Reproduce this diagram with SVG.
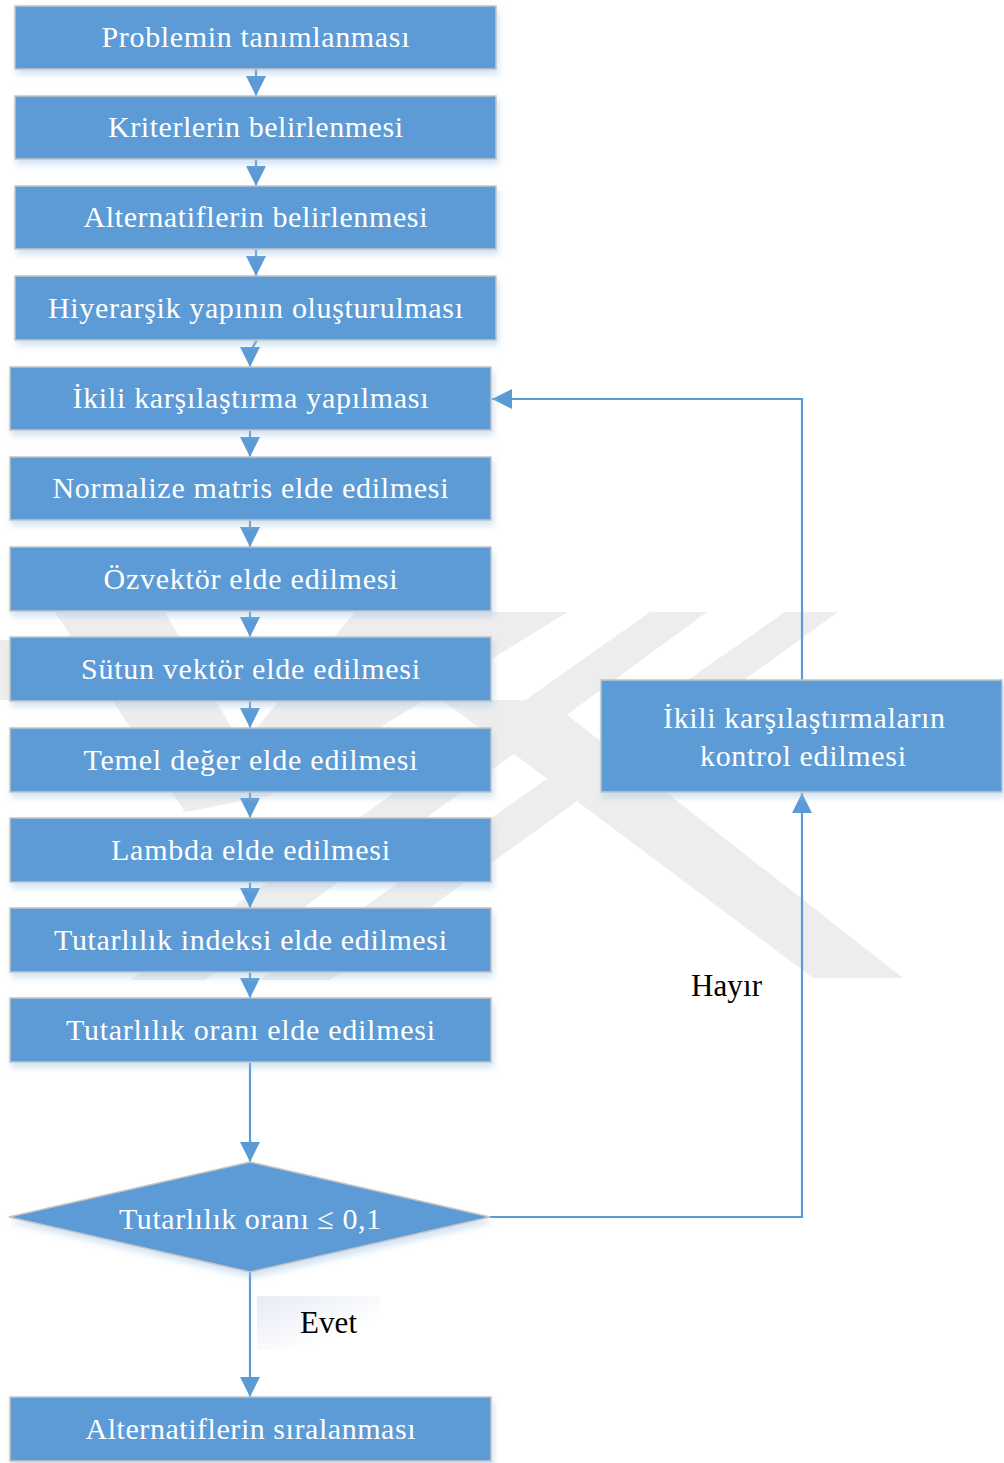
<svg xmlns="http://www.w3.org/2000/svg" width="1004" height="1463" viewBox="0 0 1004 1463">
<defs>
<style>
.box{fill:#5B9BD5;stroke:#C4C4C4;stroke-width:1.5;}
.lbl{font-family:"Liberation Serif","Times New Roman",serif;font-size:30px;fill:#FFFFFF;text-anchor:middle;}
.blk{font-family:"Liberation Serif","Times New Roman",serif;font-size:31px;fill:#000000;}
.con{fill:none;stroke:#5B9BD5;stroke-width:2.2;}
.wm{fill:#EDEDED;}
</style>
<filter id="sh" x="-5%" y="-20%" width="112%" height="150%">
<feDropShadow dx="2" dy="5" stdDeviation="3" flood-color="#9DC3E6" flood-opacity="0.45"/>
</filter>
<marker id="ah" viewBox="0 0 20 20" refX="20" refY="10" markerWidth="20" markerHeight="20" markerUnits="userSpaceOnUse" orient="auto">
<path d="M0,0 L20,10 L0,20 Z" fill="#5B9BD5"/>
</marker>
<linearGradient id="evg" x1="0" y1="0" x2="1" y2="1">
<stop offset="0" stop-color="#E6EBF5"/>
<stop offset="0.7" stop-color="#FFFFFF"/>
</linearGradient>
</defs>
<rect width="1004" height="1463" fill="#FFFFFF"/>
<g id="watermark">
<polygon class="wm" points="55,612 165,612 270,795 185,812"/>
<polygon class="wm" points="355,612 568,612 270,795 185,812"/>
<polygon class="wm" points="650,612 707,612 205,980 130,980"/>
<polygon class="wm" points="785,612 838,612 330,980 260,980"/>
<polygon class="wm" points="442,700 548,700 903,978 813,978"/>
<polygon class="wm" points="0,640 40,640 40,700 0,700"/>
</g>
<g id="connectors">
<line class="con" x1="256" y1="69" x2="256" y2="96" marker-end="url(#ah)"/>
<line class="con" x1="256" y1="159" x2="256" y2="186" marker-end="url(#ah)"/>
<line class="con" x1="256" y1="249" x2="256" y2="276" marker-end="url(#ah)"/>
<path class="con" d="M257,340 L250,352 L250,367" marker-end="url(#ah)"/>
<line class="con" x1="250" y1="430" x2="250" y2="457" marker-end="url(#ah)"/>
<line class="con" x1="250" y1="520" x2="250" y2="547" marker-end="url(#ah)"/>
<line class="con" x1="250" y1="611" x2="250" y2="637" marker-end="url(#ah)"/>
<line class="con" x1="250" y1="701" x2="250" y2="728" marker-end="url(#ah)"/>
<line class="con" x1="250" y1="792" x2="250" y2="818" marker-end="url(#ah)"/>
<line class="con" x1="250" y1="882" x2="250" y2="908" marker-end="url(#ah)"/>
<line class="con" x1="250" y1="972" x2="250" y2="998" marker-end="url(#ah)"/>
<line class="con" x1="250" y1="1062" x2="250" y2="1162" marker-end="url(#ah)"/>
<line class="con" x1="250" y1="1272" x2="250" y2="1397" marker-end="url(#ah)"/>
<path class="con" d="M490,1217 L802,1217 L802,793" marker-end="url(#ah)"/>
<path class="con" d="M802,680 L802,399 L492,399" marker-end="url(#ah)"/>
</g>
<g id="n1"><rect class="box" filter="url(#sh)" x="15" y="6" width="481" height="63"/><text class="lbl" x="255.5" y="47" textLength="308" lengthAdjust="spacing">Problemin tanımlanması</text></g>
<g id="n2"><rect class="box" filter="url(#sh)" x="15" y="96" width="481" height="63"/><text class="lbl" x="255.5" y="137" textLength="295" lengthAdjust="spacing">Kriterlerin belirlenmesi</text></g>
<g id="n3"><rect class="box" filter="url(#sh)" x="15" y="186" width="481" height="63"/><text class="lbl" x="255.5" y="227" textLength="344" lengthAdjust="spacing">Alternatiflerin belirlenmesi</text></g>
<g id="n4"><rect class="box" filter="url(#sh)" x="15" y="276" width="481" height="64"/><text class="lbl" x="255.5" y="318" textLength="415" lengthAdjust="spacing">Hiyerarşik yapının oluşturulması</text></g>
<g id="n5"><rect class="box" filter="url(#sh)" x="10" y="367" width="481" height="63"/><text class="lbl" x="250.5" y="408" textLength="356" lengthAdjust="spacing">İkili karşılaştırma yapılması</text></g>
<g id="n6"><rect class="box" filter="url(#sh)" x="10" y="457" width="481" height="63"/><text class="lbl" x="250.5" y="498" textLength="396" lengthAdjust="spacing">Normalize matris elde edilmesi</text></g>
<g id="n7"><rect class="box" filter="url(#sh)" x="10" y="547" width="481" height="64"/><text class="lbl" x="250.5" y="589" textLength="294" lengthAdjust="spacing">Özvektör elde edilmesi</text></g>
<g id="n8"><rect class="box" filter="url(#sh)" x="10" y="637" width="481" height="64"/><text class="lbl" x="250.5" y="679" textLength="339" lengthAdjust="spacing">Sütun vektör elde edilmesi</text></g>
<g id="n9"><rect class="box" filter="url(#sh)" x="10" y="728" width="481" height="64"/><text class="lbl" x="250.5" y="770" textLength="334" lengthAdjust="spacing">Temel değer elde edilmesi</text></g>
<g id="n10"><rect class="box" filter="url(#sh)" x="10" y="818" width="481" height="64"/><text class="lbl" x="250.5" y="860" textLength="279" lengthAdjust="spacing">Lambda elde edilmesi</text></g>
<g id="n11"><rect class="box" filter="url(#sh)" x="10" y="908" width="481" height="64"/><text class="lbl" x="250.5" y="950" textLength="393" lengthAdjust="spacing">Tutarlılık indeksi elde edilmesi</text></g>
<g id="n12"><rect class="box" filter="url(#sh)" x="10" y="998" width="481" height="64"/><text class="lbl" x="250.5" y="1040" textLength="369" lengthAdjust="spacing">Tutarlılık oranı elde edilmesi</text></g>
<g id="decision"><polygon class="box" filter="url(#sh)" points="250,1162 490,1217 250,1272 9,1217"/><text class="lbl" x="250" y="1229" textLength="262" lengthAdjust="spacing">Tutarlılık oranı ≤ 0,1</text></g>
<g id="n13"><rect class="box" filter="url(#sh)" x="10" y="1397" width="481" height="64"/><text class="lbl" x="250.5" y="1439" textLength="330" lengthAdjust="spacing">Alternatiflerin sıralanması</text></g>
<g id="check"><rect class="box" filter="url(#sh)" x="601" y="680" width="401" height="112"/><text class="lbl" x="804" y="728" textLength="282" lengthAdjust="spacing">İkili karşılaştırmaların</text><text class="lbl" x="803" y="766" textLength="206" lengthAdjust="spacing">kontrol edilmesi</text></g>
<g id="label-hayir"><text class="blk" x="691" y="996" textLength="71" lengthAdjust="spacing">Hayır</text></g>
<g id="label-evet"><rect x="257" y="1296" width="123" height="54" fill="url(#evg)"/><text class="blk" x="300" y="1333" textLength="57" lengthAdjust="spacing">Evet</text></g>
</svg>
